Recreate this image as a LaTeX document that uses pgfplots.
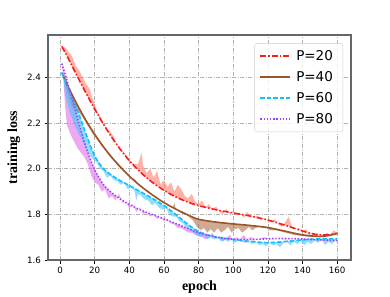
\documentclass[border=0pt]{standalone}
\usepackage{fontspec}
\setmainfont{Liberation Serif}
\newfontfamily\dejavu{DejaVu Sans}
\usepackage{pgfplots}
\pgfplotsset{compat=1.18}
\usepgfplotslibrary{fillbetween}
\definecolor{c20}{HTML}{FF1A1A}
\definecolor{c40}{HTML}{9A5528}
\definecolor{c60}{HTML}{12BFFF}
\definecolor{c80}{HTML}{A040FF}
\definecolor{b20}{HTML}{FF7F6E}
\definecolor{b40}{HTML}{A8663C}
\definecolor{b60}{HTML}{30C4FF}
\definecolor{b80}{HTML}{E070E8}
\begin{document}
\begin{tikzpicture}
\begin{axis}[
  name=ax, scale only axis, width=303pt, height=225pt,
  xmin=-7, xmax=168, ymin=1.6, ymax=2.585,
  xtick={0,20,...,160}, ytick={1.6,1.8,2.0,2.2,2.4},
  yticklabel style={/pgf/number format/.cd, fixed, fixed zerofill, precision=1},
  /pgf/number format/assume math mode=true,
  tick align=outside, xtick pos=bottom, ytick pos=left,
  major tick length=3.5pt, tick style={black, line width=0.7pt},
  axis line style={draw=black!60, line width=1.3pt},
  grid=major, grid style={black!30, dash pattern=on 4pt off 1.5pt on 1pt off 1.5pt, line width=0.6pt},
  ticklabel style={font=\dejavu\fontsize{8.7}{10}\selectfont},
  xlabel={epoch}, ylabel={training loss},
  label style={font=\bfseries\fontsize{14}{16}\selectfont},
  legend cell align=left,
  legend style={at={(0.974,0.964)}, anchor=north east, draw=black!20, rounded corners=2.5pt,
    fill=white, fill opacity=0.8, text opacity=1, font=\dejavu\fontsize{13.5}{16}\selectfont,
    row sep=5.5pt, inner xsep=5pt, inner ysep=5pt,
    nodes={inner xsep=5pt}},
  legend image code/.code={\draw[#1] (0pt,0pt) -- (30pt,0pt);},
]
% raw series (noisy)
\addplot[draw=none, forget plot, name path=r20] coordinates {
(1,2.535)(3,2.53)(5,2.51)(7,2.49)(9,2.45)(11,2.43)(13,2.40)(15,2.37)(17,2.35)(19,2.30)(21,2.26)(23,2.23)(25,2.20)(27,2.175)(29,2.16)(31,2.14)(33,2.10)(35,2.085)(37,2.07)(39,2.045)(41,2.03)(43,2.02)(45,2.02)(47,2.07)(48,2.01)(50,1.98)(52,2.0)(54,1.96)(56,1.99)(58,1.93)(60,1.95)(62,1.92)(64,1.94)(66,1.90)(68,1.93)(70,1.91)(72,1.88)(74,1.87)(76,1.89)(78,1.855)(80,1.845)(82,1.86)(84,1.83)(86,1.845)(88,1.82)(90,1.835)(92,1.81)(94,1.80)(96,1.825)(98,1.80)(100,1.815)(102,1.795)(104,1.805)(106,1.785)(108,1.81)(110,1.79)(112,1.785)(114,1.795)(116,1.775)(118,1.785)(120,1.77)(122,1.765)(124,1.78)(126,1.755)(128,1.745)(130,1.765)(132,1.79)(134,1.745)(136,1.735)(138,1.74)(140,1.725)(142,1.735)(144,1.71)(146,1.72)(148,1.70)(150,1.715)(152,1.70)(154,1.72)(156,1.71)(158,1.73)(160,1.717)};
\addplot[draw=none, forget plot, name path=r40] coordinates {
(1,2.42)(3,2.37)(5,2.31)(7,2.27)(9,2.25)(11,2.245)(13,2.225)(15,2.20)(17,2.175)(19,2.15)(21,2.13)(23,2.11)(25,2.09)(27,2.07)(29,2.05)(31,2.035)(33,2.015)(35,2.0)(37,1.99)(39,1.97)(41,1.96)(43,1.955)(45,1.935)(47,1.925)(49,1.91)(51,1.905)(53,1.885)(55,1.875)(57,1.865)(59,1.855)(61,1.845)(63,1.835)(65,1.83)(66,1.85)(67,1.82)(69,1.81)(71,1.80)(73,1.80)(75,1.785)(77,1.77)(79,1.745)(81,1.73)(83,1.74)(85,1.72)(87,1.735)(89,1.72)(91,1.74)(93,1.72)(95,1.73)(97,1.745)(99,1.72)(101,1.735)(103,1.74)(105,1.72)(107,1.73)(109,1.745)(111,1.73)(113,1.74)(115,1.745)(117,1.74)(119,1.74)(121,1.73)(125,1.73)(130,1.72)(135,1.71)(140,1.705)(145,1.70)(150,1.705)(155,1.71)(160,1.716)};
\addplot[draw=none, forget plot, name path=r60] coordinates {
(1,2.42)(2,2.39)(3,2.32)(5,2.26)(7,2.22)(9,2.18)(11,2.15)(13,2.12)(15,2.09)(17,2.06)(19,2.04)(21,2.03)(23,2.0)(25,1.99)(27,1.96)(29,1.97)(31,1.95)(33,1.945)(35,1.93)(37,1.94)(39,1.91)(41,1.92)(43,1.90)(44,1.86)(45,1.89)(47,1.88)(49,1.865)(51,1.86)(53,1.84)(55,1.85)(57,1.83)(59,1.82)(61,1.83)(63,1.80)(65,1.79)(67,1.79)(69,1.77)(71,1.76)(73,1.74)(75,1.73)(77,1.72)(79,1.71)(81,1.70)(83,1.71)(85,1.69)(87,1.70)(89,1.69)(91,1.70)(93,1.68)(95,1.69)(97,1.68)(99,1.69)(101,1.675)(103,1.685)(105,1.68)(107,1.675)(109,1.68)(111,1.67)(113,1.68)(115,1.665)(117,1.67)(119,1.66)(121,1.675)(123,1.665)(125,1.67)(127,1.655)(129,1.675)(131,1.68)(133,1.665)(135,1.68)(137,1.67)(139,1.685)(141,1.665)(143,1.68)(145,1.67)(147,1.685)(149,1.675)(151,1.69)(153,1.665)(155,1.68)(157,1.67)(159,1.685)(160,1.692)};
\addplot[draw=none, forget plot, name path=r80] coordinates {
(1,2.46)(2,2.38)(3,2.26)(4,2.19)(6,2.15)(8,2.12)(10,2.09)(12,2.07)(14,2.05)(16,2.02)(18,1.97)(20,1.94)(22,1.93)(24,1.90)(26,1.91)(28,1.87)(30,1.88)(32,1.86)(34,1.89)(36,1.85)(38,1.855)(40,1.825)(42,1.845)(44,1.81)(46,1.83)(48,1.80)(50,1.81)(52,1.79)(54,1.80)(56,1.78)(58,1.79)(60,1.77)(62,1.78)(64,1.76)(66,1.755)(68,1.74)(70,1.74)(72,1.73)(74,1.72)(76,1.72)(78,1.71)(80,1.705)(82,1.70)(84,1.69)(86,1.70)(88,1.72)(90,1.69)(92,1.70)(94,1.68)(96,1.695)(98,1.71)(100,1.685)(102,1.70)(104,1.69)(106,1.71)(108,1.69)(110,1.70)(114,1.69)(118,1.70)(122,1.69)(126,1.695)(130,1.69)(135,1.695)(140,1.69)(150,1.685)(160,1.685)};
% smoothed series (paths)
\addplot[draw=none, forget plot, name path=s20] coordinates {
(1,2.535)(5,2.478)(10,2.403)(15,2.330)(20,2.260)(25,2.195)(30,2.135)(35,2.082)(40,2.035)(45,1.995)(50,1.960)(55,1.930)(60,1.905)(65,1.883)(70,1.865)(75,1.850)(80,1.838)(90,1.820)(100,1.806)(110,1.792)(120,1.775)(130,1.752)(140,1.727)(145,1.716)(150,1.710)(155,1.710)(160,1.717)};
\addplot[draw=none, forget plot, name path=s40] coordinates {
(1,2.42)(5,2.353)(10,2.278)(15,2.210)(20,2.150)(25,2.096)(30,2.048)(35,2.006)(40,1.967)(45,1.933)(50,1.903)(55,1.876)(60,1.851)(65,1.830)(70,1.811)(75,1.793)(80,1.778)(90,1.766)(100,1.758)(110,1.751)(120,1.742)(130,1.726)(140,1.710)(150,1.703)(155,1.707)(160,1.716)};
\addplot[draw=none, forget plot, name path=s60] coordinates {
(1,2.42)(5,2.345)(10,2.255)(15,2.15)(20,2.055)(25,2.00)(30,1.97)(35,1.946)(40,1.926)(45,1.905)(50,1.884)(55,1.862)(60,1.838)(65,1.810)(70,1.779)(75,1.749)(80,1.725)(85,1.710)(90,1.701)(100,1.690)(110,1.681)(120,1.676)(130,1.681)(140,1.688)(150,1.693)(160,1.692)};
\addplot[draw=none, forget plot, name path=s80] coordinates {
(1,2.46)(4,2.385)(7,2.305)(10,2.222)(13,2.142)(16,2.07)(20,1.995)(25,1.93)(30,1.893)(35,1.866)(40,1.843)(45,1.824)(50,1.808)(55,1.794)(60,1.78)(65,1.765)(70,1.75)(75,1.734)(80,1.72)(90,1.701)(100,1.691)(110,1.689)(120,1.693)(130,1.694)(140,1.692)(150,1.688)(160,1.685)};
% bands
\addplot[fill=b20, fill opacity=0.6, draw=none, forget plot] fill between[of=r20 and s20];
\addplot[fill=b40, fill opacity=0.55, draw=none, forget plot] fill between[of=r40 and s40];
\addplot[fill=b80, fill opacity=0.6, draw=none, forget plot] fill between[of=r80 and s80];
\addplot[fill=b60, fill opacity=0.55, draw=none, forget plot] fill between[of=r60 and s60];
% lines
\addplot[c20, line width=1.6pt, smooth, dash pattern=on 6pt off 2pt on 1.5pt off 2pt] coordinates {
(1,2.535)(5,2.478)(10,2.403)(15,2.330)(20,2.260)(25,2.195)(30,2.135)(35,2.082)(40,2.035)(45,1.995)(50,1.960)(55,1.930)(60,1.905)(65,1.883)(70,1.865)(75,1.850)(80,1.838)(90,1.820)(100,1.806)(110,1.792)(120,1.775)(130,1.752)(140,1.727)(145,1.716)(150,1.710)(155,1.710)(160,1.717)};
\addlegendentry{P=20}
\addplot[c40, line width=1.6pt, smooth] coordinates {
(1,2.42)(5,2.353)(10,2.278)(15,2.210)(20,2.150)(25,2.096)(30,2.048)(35,2.006)(40,1.967)(45,1.933)(50,1.903)(55,1.876)(60,1.851)(65,1.830)(70,1.811)(75,1.793)(80,1.778)(90,1.766)(100,1.758)(110,1.751)(120,1.742)(130,1.726)(140,1.710)(150,1.703)(155,1.707)(160,1.716)};
\addlegendentry{P=40}
\addplot[c60, line width=1.6pt, smooth, dash pattern=on 4.5pt off 2pt] coordinates {
(1,2.42)(5,2.345)(10,2.255)(15,2.15)(20,2.055)(25,2.00)(30,1.97)(35,1.946)(40,1.926)(45,1.905)(50,1.884)(55,1.862)(60,1.838)(65,1.810)(70,1.779)(75,1.749)(80,1.725)(85,1.710)(90,1.701)(100,1.690)(110,1.681)(120,1.676)(130,1.681)(140,1.688)(150,1.693)(160,1.692)};
\addlegendentry{P=60}
\addplot[c80, line width=1.6pt, smooth, dash pattern=on 1.4pt off 1.8pt] coordinates {
(1,2.46)(4,2.385)(7,2.305)(10,2.222)(13,2.142)(16,2.07)(20,1.995)(25,1.93)(30,1.893)(35,1.866)(40,1.843)(45,1.824)(50,1.808)(55,1.794)(60,1.78)(65,1.765)(70,1.75)(75,1.734)(80,1.72)(90,1.701)(100,1.691)(110,1.689)(120,1.693)(130,1.694)(140,1.692)(150,1.688)(160,1.685)};
\addlegendentry{P=80}
\end{axis}
\path ([shift={(-48pt,-33pt)}]ax.south west) rectangle ([shift={(39pt,35pt)}]ax.north east);
\end{tikzpicture}
\end{document}
